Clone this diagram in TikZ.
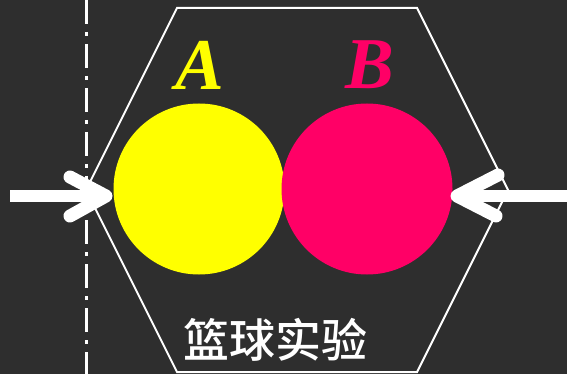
\documentclass[tikz,border=0pt]{standalone}
\usepackage{fontspec}
\setmainfont{Liberation Serif}
\newfontfamily\cjk{Noto Sans CJK SC}[UprightFont=* Medium]
\definecolor{board}{HTML}{2E2E2E}
\definecolor{ballA}{HTML}{FFFF00}
\definecolor{ballB}{HTML}{FF0066}
\tikzset{
  ball/.style={circle, minimum size=171pt, inner sep=0pt},
  hexline/.style={draw=white, line width=2pt},
  axisline/.style={white, line width=3pt, dash pattern=on 24pt off 8pt on 4pt off 8pt},
  shaft/.style={white, line width=12pt},
  head/.style={white, line width=13pt, line cap=round, line join=round},
  letter/.style={font=\fontsize{73}{73}\selectfont\bfseries\itshape},
  title/.style={text=white, font=\cjk\fontsize{46}{46}\selectfont}
}
\begin{document}
\begin{tikzpicture}[x=1pt,y=-1pt]
\fill[board] (0,0) rectangle (567,374);
\useasboundingbox (0,0) rectangle (567,374);
% axis
\coordinate (axtop) at (86,0);
\coordinate (axbot) at (86,374);
\draw[axisline] (axtop) -- (axbot);
% hexagon
\coordinate (h1) at (177,8);
\coordinate (h2) at (417,8);
\coordinate (h3) at (508,190);
\coordinate (h4) at (417,372);
\coordinate (h5) at (177,372);
\coordinate (h6) at (86,190);
\draw[hexline] (h1) -- (h2) -- (h3) -- (h4) -- (h5) -- (h6) -- cycle;
% balls
\node[ball, fill=ballA] (A) at (199,189) {};
\node[ball, fill=ballB] (B) at (367,189) {};
\node[letter, text=ballA] (la) at (200,65) {A};
\node[letter, text=ballB] (lb) at (370,65) {B};
\node[title] (t) at (275,340) {篮球实验};
% left arrow
\coordinate (ls) at (10,196);
\coordinate (lt) at (106,196);
\coordinate (lu) at (70,177);
\coordinate (ld) at (70,216);
\draw[shaft] (ls) -- (lt);
\draw[head] (lu) -- (lt) -- (ld);
% right arrow
\coordinate (rs) at (567,196);
\coordinate (rt) at (457,196);
\coordinate (ru) at (498,175);
\coordinate (rd) at (496,216);
\draw[shaft] (rs) -- (rt);
\draw[head] (ru) -- (rt) -- (rd);
\end{tikzpicture}
\end{document}
